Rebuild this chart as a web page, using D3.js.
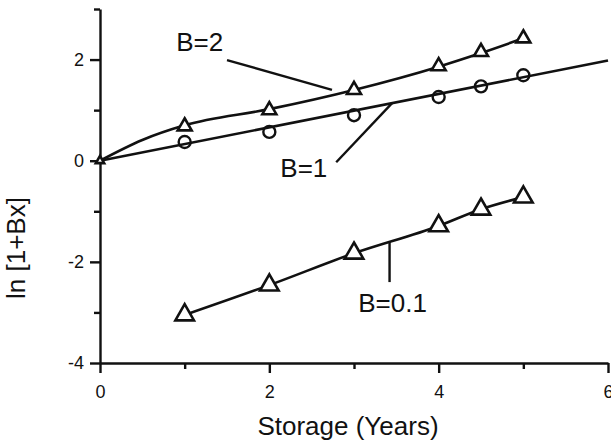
<!DOCTYPE html>
<html>
<head>
<meta charset="utf-8">
<script src="https://cdn.jsdelivr.net/npm/d3@7"></script>
<style>
  body { margin: 0; background: #fff; }
  svg { display: block; }
</style>
</head>
<body>
<div id="chart"></div>
<script>
(function(d3) {
  'use strict';

  //data
  var yearsB2 = [0, 1, 2, 3, 4, 4.5, 5];
  var valuesB2 = [0, 0.68, 1.0, 1.40, 1.87, 2.15, 2.42];
  //smooth fitted curve for B=2
  var curveXB2 = [0, 0.5, 1, 2, 3, 4, 4.5, 5];
  var curveYB2 = [0, 0.41, 0.70, 1.02, 1.40, 1.86, 2.13, 2.42];

  var yearsB1 = [1, 2, 3, 4, 4.5, 5];
  var valuesB1 = [0.37, 0.57, 0.90, 1.26, 1.47, 1.69];
  //straight fitted line for B=1
  var lineXB1 = [0, 6];
  var lineYB1 = [0, 1.98];

  var yearsB01 = [1, 2, 3, 4, 4.5, 5];
  var valuesB01 = [-3.05, -2.46, -1.83, -1.29, -0.96, -0.72];

  var xMajorTicks = [0, 2, 4, 6];
  var xMinorTicks = [1, 3, 5];
  var yMajorTicks = [-4, -2, 0, 2];
  var yMinorTicks = [-3, -1, 1, 3];

  //curve labels with leader lines, in data units
  var labelText = ['B=2', 'B=1', 'B=0.1'];
  var labelAt = [[0.90, 2.17], [2.13, -0.32], [3.05, -2.99]];
  var leaderFrom = [[1.50, 1.99], [2.79, -0.03], [3.42, -1.61]];
  var leaderTo = [[2.74, 1.40], [3.45, 1.14], [3.42, -2.40]];

  //Sizes
  var width = 611;
  var height = 445;
  var font = '"Liberation Sans", Arial, Helvetica, sans-serif';
  var ink = '#111';

  var x = d3.scaleLinear().domain([0, 6]).range([100, 608]);
  var y = d3.scaleLinear().domain([-4, 3]).range([363, 9]);

  //plain hyphen minus, like the original
  var plain = function(d) { return String(d); };

  var svg = d3.select('#chart').append('svg')
    .attr('width', width)
    .attr('height', height)
    .style('background', '#fff');

  function zip(a, b) {
    return a.map(function(v, i) { return [v, b[i]]; });
  }

  //Axes
  var yAxis = svg.append('g')
    .attr('transform', 'translate(' + x(0) + ',0)')
    .call(d3.axisLeft(y).tickValues(yMajorTicks).tickFormat(plain)
      .tickSize(10).tickSizeOuter(0).tickPadding(6));
  var yMinor = svg.append('g')
    .attr('transform', 'translate(' + x(0) + ',0)')
    .call(d3.axisLeft(y).tickValues(yMinorTicks).tickSize(6).tickSizeOuter(0).tickFormat(''));
  var xAxis = svg.append('g')
    .attr('transform', 'translate(0,' + y(-4) + ')')
    .call(d3.axisBottom(x).tickValues(xMajorTicks).tickFormat(plain)
      .tickSize(10).tickSizeOuter(0).tickPadding(12));
  var xMinor = svg.append('g')
    .attr('transform', 'translate(0,' + y(-4) + ')')
    .call(d3.axisBottom(x).tickValues(xMinorTicks).tickSize(6).tickSizeOuter(0).tickFormat(''));

  [yAxis, yMinor, xAxis, xMinor].forEach(function(g) {
    g.selectAll('path, line').attr('stroke', ink).attr('stroke-width', 2.4);
    g.selectAll('text')
      .attr('fill', ink)
      .style('font-family', font)
      .style('font-size', '18px');
  });
  yMinor.select('path').remove();
  xMinor.select('path').remove();

  //Axis titles
  svg.append('text')
    .attr('x', 348)
    .attr('y', 435)
    .attr('text-anchor', 'middle')
    .style('font-family', font)
    .style('font-size', '26px')
    .attr('fill', ink)
    .text('Storage (Years)');

  svg.append('text')
    .attr('transform', 'translate(25,248) rotate(-90)')
    .attr('text-anchor', 'middle')
    .style('font-family', font)
    .style('font-size', '26px')
    .attr('fill', ink)
    .text('ln [1+Bx]');

  //Lines
  var line = d3.line()
    .x(function(d) { return x(d[0]); })
    .y(function(d) { return y(d[1]); });
  var smooth = d3.line()
    .curve(d3.curveMonotoneX)
    .x(function(d) { return x(d[0]); })
    .y(function(d) { return y(d[1]); });

  svg.append('path')
    .datum(zip(curveXB2, curveYB2))
    .attr('d', smooth)
    .attr('fill', 'none').attr('stroke', ink).attr('stroke-width', 2.6);
  svg.append('path')
    .datum(zip(lineXB1, lineYB1))
    .attr('d', line)
    .attr('fill', 'none').attr('stroke', ink).attr('stroke-width', 2.6);
  svg.append('path')
    .datum(zip(yearsB01, valuesB01))
    .attr('d', smooth)
    .attr('fill', 'none').attr('stroke', ink).attr('stroke-width', 2.6);

  //Markers
  var smallTri = d3.symbol(d3.symbolTriangle, 85);
  var bigTri = d3.symbol(d3.symbolTriangle, 150);
  var tinyTri = d3.symbol(d3.symbolTriangle, 30);

  svg.selectAll('.tri2')
    .data(zip(yearsB2, valuesB2))
    .enter().append('path')
    .attr('class', 'tri2')
    .attr('transform', function(d) { return 'translate(' + x(d[0]) + ',' + y(d[1]) + ')'; })
    .attr('d', function(d) { return d[0] === 0 ? tinyTri() : smallTri(); })
    .attr('fill', '#fff').attr('stroke', ink).attr('stroke-width', 2.6);

  svg.selectAll('.circ1')
    .data(zip(yearsB1, valuesB1))
    .enter().append('circle')
    .attr('class', 'circ1')
    .attr('cx', function(d) { return x(d[0]); })
    .attr('cy', function(d) { return y(d[1]); })
    .attr('r', 6)
    .attr('fill', 'none').attr('stroke', ink).attr('stroke-width', 2.4);

  svg.selectAll('.tri01')
    .data(zip(yearsB01, valuesB01))
    .enter().append('path')
    .attr('class', 'tri01')
    .attr('transform', function(d) { return 'translate(' + x(d[0]) + ',' + y(d[1]) + ')'; })
    .attr('d', bigTri)
    .attr('fill', '#fff').attr('stroke', ink).attr('stroke-width', 2.6);

  //Labels and leader lines
  labelText.forEach(function(t, i) {
    svg.append('line')
      .attr('x1', x(leaderFrom[i][0])).attr('y1', y(leaderFrom[i][1]))
      .attr('x2', x(leaderTo[i][0])).attr('y2', y(leaderTo[i][1]))
      .attr('stroke', ink).attr('stroke-width', 2.4);
    svg.append('text')
      .attr('x', x(labelAt[i][0]))
      .attr('y', y(labelAt[i][1]))
      .style('font-family', font)
      .style('font-size', '26px')
      .attr('fill', ink)
      .text(t);
  });
})(window.d3);
</script>
</body>
</html>
